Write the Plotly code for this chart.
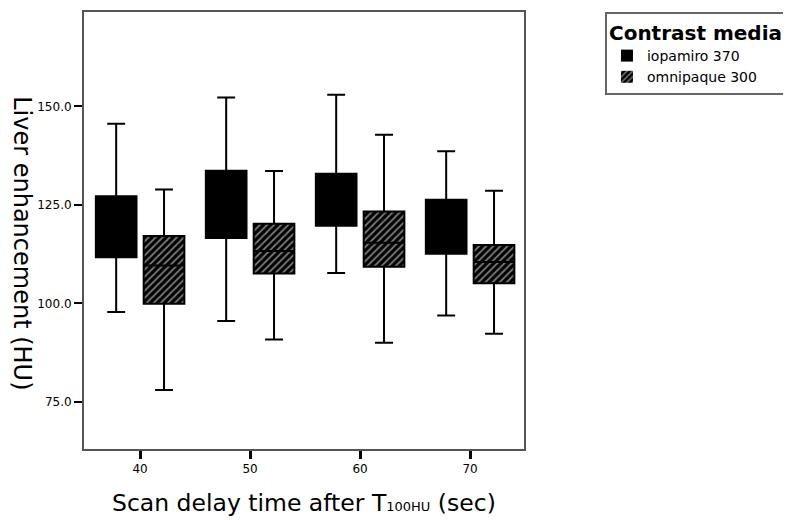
import plotly.graph_objects as go

# ---- data ----
categories = ["40", "50", "60", "70"]
series_names = ["iopamiro 370", "omnipaque 300"]

iopa_lower = [97.8, 95.5, 107.7, 96.9]
iopa_q1 = [111.7, 116.6, 119.7, 112.6]
iopa_median = [119.5, 125.0, 126.0, 119.5]
iopa_q3 = [127.2, 133.7, 132.9, 126.3]
iopa_upper = [145.6, 152.3, 153.0, 138.6]

omni_lower = [78.0, 90.8, 90.0, 92.3]
omni_q1 = [99.9, 107.6, 109.3, 105.1]
omni_median = [109.6, 113.3, 115.4, 110.5]
omni_q3 = [117.1, 120.2, 123.3, 114.8]
omni_upper = [128.9, 133.6, 142.8, 128.6]

y_ticks = [75, 100, 125, 150]

FONT = "DejaVu Sans"

fig = go.Figure()

# filled boxes (bars spanning q1..q3), also used for the legend swatches
fig.add_trace(go.Bar(
    x=categories, base=iopa_q1,
    y=[b - a for a, b in zip(iopa_q1, iopa_q3)],
    name=series_names[0],
    marker=dict(color="black", line=dict(width=0)),
    hoverinfo="skip",
))
fig.add_trace(go.Bar(
    x=categories, base=omni_q1,
    y=[b - a for a, b in zip(omni_q1, omni_q3)],
    name=series_names[1],
    marker=dict(color="black", line=dict(width=0),
                pattern=dict(shape="/", bgcolor="black", fgcolor="#f4f4f4",
                             size=5, solidity=0.35)),
    hoverinfo="skip",
))

# box outlines, medians and whiskers
fig.add_trace(go.Box(
    x=categories, q1=iopa_q1, median=iopa_median, q3=iopa_q3,
    lowerfence=iopa_lower, upperfence=iopa_upper,
    fillcolor="rgba(0,0,0,0)", line=dict(color="black", width=2),
    whiskerwidth=0.44, showlegend=False, name=series_names[0],
    boxpoints=False,
))
fig.add_trace(go.Box(
    x=categories, q1=omni_q1, median=omni_median, q3=omni_q3,
    lowerfence=omni_lower, upperfence=omni_upper,
    fillcolor="rgba(0,0,0,0)", line=dict(color="black", width=2),
    whiskerwidth=0.44, showlegend=False, name=series_names[1],
    boxpoints=False,
))

# the page body has an 8px margin, so the figure is 8px smaller
fig.update_layout(
    width=783, height=512,
    margin=dict(l=76, r=267, t=2, b=71),
    paper_bgcolor="white", plot_bgcolor="white",
    barmode="group", bargap=0.13, bargroupgap=0.15,
    boxmode="group", boxgap=0.13, boxgroupgap=0.15,
    font=dict(family=FONT, color="black"),
    showlegend=True,
    legend=dict(
        x=1.184, xanchor="left", y=1.0, yanchor="top",
        bgcolor="white", bordercolor="#666", borderwidth=2,
        font=dict(family=FONT, size=14, color="black"),
        title=dict(text="<b>Contrast media</b>",
                   font=dict(family=FONT, size=20, color="black")),
        traceorder="normal", tracegroupgap=0,
    ),
    xaxis=dict(
        type="category", range=[-0.51, 3.49],
        showline=True, mirror=True, linecolor="#555", linewidth=2,
        ticks="outside", ticklen=8, tickwidth=2.5, tickcolor="black",
        showgrid=False, zeroline=False,
        tickfont=dict(family=FONT, size=12, color="black"),
        fixedrange=True,
    ),
    yaxis=dict(
        range=[63, 174],
        tickvals=y_ticks, tickformat=".1f",
        showline=True, mirror=True, linecolor="#555", linewidth=2,
        ticks="outside", ticklen=8, tickwidth=2, tickcolor="black",
        showgrid=False, zeroline=False,
        tickfont=dict(family=FONT, size=12, color="black"),
        fixedrange=True,
    ),
    annotations=[
        dict(text="Liver enhancement (HU)", xref="paper", yref="paper",
             x=-0.141, y=0.471, xanchor="center", yanchor="middle",
             textangle=90, showarrow=False,
             font=dict(family=FONT, size=24, color="black")),
        dict(text="Scan delay time after T<span style=\"font-size:13px\">100HU</span> (sec)",
             xref="paper", yref="paper",
             x=0.5, y=-0.123, xanchor="center", yanchor="middle",
             showarrow=False,
             font=dict(family=FONT, size=23.5, color="black")),
    ],
)

fig.write_html("out.html")
